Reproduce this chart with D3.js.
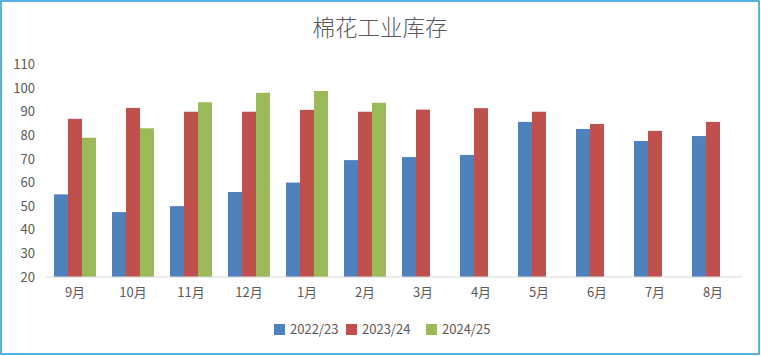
<!DOCTYPE html>
<html><head><meta charset="utf-8">
<script src="https://cdn.jsdelivr.net/npm/d3@7"></script>
<style>body{margin:0;background:#fff;}svg{display:block;}</style>
</head><body>
<script>
const categories = ["9月","10月","11月","12月","1月","2月","3月","4月","5月","6月","7月","8月"];
const seriesNames = ["2022/23","2023/24","2024/25"];
const s2223 = [55,47.5,50,56,60,69.5,70.8,71.7,85.7,82.7,77.6,79.7];
const s2324 = [87,91.6,90,90,90.8,90,90.9,91.5,90,84.8,81.9,85.7];
const s2425 = [79,83,94,98,98.8,93.8,null,null,null,null,null,null];
const yTicks = [20,30,40,50,60,70,80,90,100,110];
const colors = ["#4f81bd","#c0504d","#9bbb59"];
const title = "棉花工业库存";

const W=761,H=356;
const svg=d3.select("body").append("svg").attr("width",W).attr("height",H);
svg.append("rect").attr("x",1).attr("y",1).attr("width",758).attr("height",353)
  .attr("fill","#fff").attr("stroke","#1f9bd7").attr("stroke-width",1.5);

const font="'Microsoft YaHei','Noto Sans CJK SC','DejaVu Sans',sans-serif";
svg.append("text").attr("x",380).attr("y",36).attr("text-anchor","middle")
  .attr("font-family",font).attr("font-size",22.5).attr("font-weight",300).attr("fill","#595959").text(title);

const x0=d3.scaleBand().domain(categories).range([46,742]).paddingInner(0.276).paddingOuter(0.138);
const x1=d3.scaleBand().domain(seriesNames).range([0,x0.bandwidth()]);
const y=d3.scaleLinear().domain([20,110]).range([277,64.5]);

const series=[s2223,s2324,s2425];
series.forEach((vals,si)=>{
  svg.append("g").selectAll("rect").data(vals.map((v,i)=>({v,c:categories[i]})).filter(d=>d.v!=null))
    .join("rect")
    .attr("x",d=>x0(d.c)+x1(seriesNames[si]))
    .attr("y",d=>y(d.v))
    .attr("width",x1.bandwidth())
    .attr("height",d=>277-y(d.v))
    .attr("fill",colors[si]);
});

// y axis labels
const ya=svg.append("g").attr("transform","translate(35,0)")
  .call(d3.axisLeft(y).tickValues(yTicks).tickSize(0).tickPadding(0));
ya.select(".domain").remove();
ya.selectAll("text").attr("font-family",font).attr("font-size",13).attr("fill","#595959");

// x axis
const xa=svg.append("g").attr("transform","translate(0,277)")
  .call(d3.axisBottom(x0).tickSize(0).tickPadding(11).tickSizeOuter(0));
xa.select(".domain").attr("stroke","#d9d9d9").attr("stroke-width",1.2).attr("d","M46,0H742");
xa.selectAll("text").attr("font-family",font).attr("font-size",13).attr("fill","#595959");

// legend
const legX=[274,346,426];
seriesNames.forEach((n,i)=>{
  const g=svg.append("g").attr("transform",`translate(${legX[i]},324)`);
  g.append("rect").attr("width",11).attr("height",11).attr("fill",colors[i]);
  g.append("text").attr("x",16).attr("y",10).attr("font-family",font).attr("font-size",13)
    .attr("fill","#595959").text(n);
});
</script>
</body></html>
